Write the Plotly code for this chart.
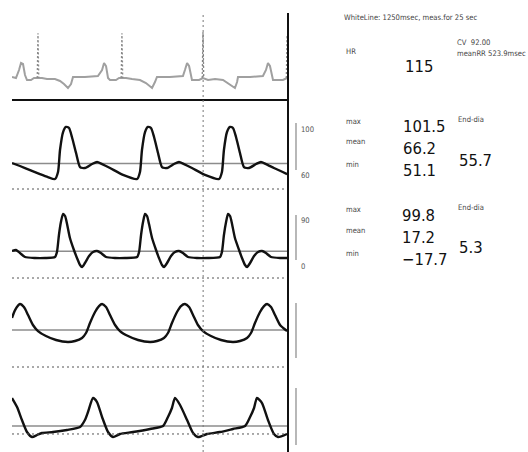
import plotly.graph_objects as go

# ---------------- data (time in ms) ----------------
# ECG (mV)
t_ecg = [0, 26, 46, 59, 72, 85, 98, 124, 144, 170, 196, 229, 281, 314, 340, 366, 386, 399, 477, 562,
         589, 602, 615, 628, 641, 680, 700, 719, 746, 785, 837, 876, 916, 935, 948, 1033, 1118, 1131,
         1145, 1158, 1171, 1177, 1223, 1249, 1282, 1328, 1380, 1419, 1458, 1472, 1478, 1557, 1641,
         1661, 1674, 1687, 1700, 1707, 1772, 1799]
ecg = [0.025, 0.0, 0.2, 0.375, 0.35, 0.075, -0.05, -0.05, 0.0, 0.0, 0.0, -0.025, -0.025, -0.075,
       -0.15, -0.25, -0.15, 0.025, 0.025, 0.05, 0.2, 0.375, 0.3, 0.0, -0.05, -0.05, 0.0, 0.0, 0.0,
       -0.025, -0.05, -0.125, -0.25, -0.1, 0.025, 0.025, 0.05, 0.2, 0.375, 0.3, 0.0, -0.05, -0.05,
       0.0, -0.05, -0.025, -0.05, -0.15, -0.25, -0.1, 0.025, 0.025, 0.05, 0.2, 0.375, 0.3, 0.0,
       -0.05, -0.05, 0.0]
r_times = [170, 719, 1249, 1799]
r_amp = [1.12, 1.12, 1.15, 1.07]

# Arterial pressure (mmHg)
t_ap = [0, 52, 118, 183, 235,
        281, 301, 314, 334, 353, 373, 392, 419, 445, 477, 523, 556, 589, 641, 726,
        818, 837, 850, 870, 889, 909, 929, 955, 981, 1014, 1059, 1092, 1125, 1177, 1262,
        1354, 1373, 1386, 1406, 1426, 1445, 1465, 1491, 1517, 1550, 1596, 1628, 1661, 1713, 1799]
ap = [66.6, 63.7, 59.8, 55.9, 53.0,
      51.1, 57.9, 79.2, 96.6, 101.5, 100.5, 91.8, 76.3, 62.7, 61.8, 65.6, 67.6, 65.6, 61.8, 55.0,
      51.1, 57.9, 79.2, 96.6, 101.5, 100.5, 91.8, 76.3, 62.7, 61.8, 65.6, 67.6, 65.6, 61.8, 55.0,
      51.1, 57.9, 79.2, 96.6, 101.5, 100.5, 91.8, 76.3, 62.7, 61.8, 65.6, 67.6, 65.6, 61.8, 55.9]
ap_mean = 66.2

# Ventricular pressure (mmHg)
t_lv = [0, 26, 52, 85, 150, 216,
        281, 294, 307, 320, 334, 347, 360, 379, 405, 425, 445, 458, 477, 504, 530, 556, 582, 615, 674, 739,
        818, 831, 844, 857, 870, 883, 896, 916, 942, 961, 981, 994, 1014, 1040, 1066, 1092, 1118, 1151, 1210, 1275,
        1360, 1373, 1386, 1400, 1413, 1426, 1439, 1458, 1485, 1504, 1524, 1537, 1557, 1583, 1609, 1635, 1661, 1694, 1753, 1799]
lv = [17.8, 20.0, 13.3, 4.5, 2.3, 2.3,
      4.5, 15.6, 53.3, 82.1, 99.8, 95.4, 77.6, 46.6, 20.0, 2.3, -13.3, -17.7, -8.8, 6.7, 15.6, 17.8, 13.3, 4.5, 2.3, 2.3,
      4.5, 15.6, 53.3, 82.1, 99.8, 95.4, 77.6, 46.6, 20.0, 2.3, -13.3, -17.7, -8.8, 6.7, 15.6, 17.8, 13.3, 4.5, 2.3, 2.3,
      4.5, 15.6, 53.3, 82.1, 99.8, 95.4, 77.6, 46.6, 20.0, 2.3, -13.3, -17.7, -8.8, 6.7, 15.6, 17.8, 13.3, 4.5, 2.3, 2.3]
lv_mean = 17.2

# Channel 4 (arbitrary units)
t_c4 = [0, 20, 52, 78, 105, 137, 170, 222, 288, 366, 412, 458, 484, 510, 543, 569,
        589, 615, 641, 674, 706, 759, 824, 903, 948, 994, 1020, 1046, 1079, 1105,
        1131, 1158, 1184, 1216, 1249, 1301, 1367, 1445, 1491, 1537, 1563, 1589, 1622, 1648,
        1668, 1694, 1720, 1753, 1799]
c4 = [55.1, 64.0, 70.8, 67.4, 58.4, 47.2, 40.4, 34.8, 30.3, 28.1, 29.2, 32.6, 38.2, 49.4, 61.8, 68.5,
      70.8, 67.4, 58.4, 47.2, 40.4, 34.8, 30.3, 28.1, 29.2, 32.6, 38.2, 49.4, 61.8, 68.5,
      70.8, 67.4, 58.4, 47.2, 40.4, 34.8, 30.3, 28.1, 29.2, 32.6, 38.2, 49.4, 61.8, 68.5,
      70.8, 67.4, 58.4, 47.2, 40.4]
c4_ref = 41.6

# Channel 5 (arbitrary units)
t_c5 = [0, 33, 65, 98, 131, 164, 196, 268, 360, 445, 477, 497,
        530, 556, 589, 628, 661, 706, 791, 903, 988, 1020, 1046,
        1066, 1099, 1145, 1184, 1216, 1275, 1360, 1445, 1524, 1557, 1583,
        1602, 1635, 1674, 1713, 1740, 1799]
c5 = [63.5, 52.9, 37.6, 23.5, 17.6, 20.0, 22.4, 23.5, 25.9, 29.4, 37.6, 47.1,
      63.5, 58.8, 41.2, 23.5, 17.6, 21.2, 23.5, 27.1, 30.6, 41.2, 51.8,
      63.5, 55.3, 37.6, 22.4, 17.6, 21.2, 23.5, 27.1, 30.6, 41.2, 51.8,
      63.5, 57.6, 37.6, 21.2, 17.6, 21.2]
c5_ref = 30.6
c5_dot = 21.2

white_line_ms = 1250

# text
header = "WhiteLine: 1250msec, meas.for 25 sec"
hr_value = "115"
cv_text = "CV  92.00"
rr_text = "meanRR 523.9msec"
ap_stats = ["101.5", "66.2", "51.1"]
ap_enddia = "55.7"
lv_stats = ["99.8", "17.2", "\u221217.7"]
lv_enddia = "5.3"
stat_names = ["max", "mean", "min"]

# ---------------- figure ----------------
W, H = 528, 452
def px(y):
    return 1 - y / H

fig = go.Figure()
wave = dict(color="#111111", width=2.4, shape="spline", smoothing=0.6)

fig.add_trace(go.Scatter(x=t_ecg, y=ecg, mode="lines", yaxis="y",
                         line=dict(color="#a0a0a0", width=2)))
rx, ry = [], []
for t, a in zip(r_times, r_amp):
    rx += [t - 5, t, t + 5, None]
    ry += [0, a, 0, None]
fig.add_trace(go.Scatter(x=rx, y=ry, mode="lines", yaxis="y",
                         line=dict(color="#8a8a8a", width=1.3, dash="2px,2px")))
fig.add_trace(go.Scatter(x=t_ap, y=ap, mode="lines", yaxis="y2", line=wave))
fig.add_trace(go.Scatter(x=t_lv, y=lv, mode="lines", yaxis="y3", line=wave))
fig.add_trace(go.Scatter(x=t_c4, y=c4, mode="lines", yaxis="y4", line=wave))
fig.add_trace(go.Scatter(x=t_c5, y=c5, mode="lines", yaxis="y5", line=wave))

hidden = dict(visible=False, showgrid=False, zeroline=False, fixedrange=True)
fig.update_layout(
    width=W, height=H, margin=dict(l=0, r=0, t=0, b=0),
    paper_bgcolor="white", plot_bgcolor="white", showlegend=False,
    xaxis=dict(domain=[12 / W, 288 / W], range=[0, 1805], **hidden),
    yaxis=dict(domain=[px(100), px(13)], range=[-0.55, 1.625], anchor="x", **hidden),
    yaxis2=dict(domain=[px(189), px(100)], range=[41.41, 127.65], anchor="x", **hidden),
    yaxis3=dict(domain=[px(278), px(189)], range=[-42.09, 155.25], anchor="x", **hidden),
    yaxis4=dict(domain=[px(367), px(278)], range=[0, 100], anchor="x", **hidden),
    yaxis5=dict(domain=[0, px(367)], range=[0, 100], anchor="x", **hidden),
)

shapes = []
grey = "#8c8c8c"
dotc = "#555555"
for yr, v in [("y2", ap_mean), ("y3", lv_mean), ("y4", c4_ref), ("y5", c5_ref)]:
    shapes.append(dict(type="line", xref="x domain", x0=0, x1=1, yref=yr, y0=v, y1=v,
                       line=dict(color=grey, width=1.5), layer="below"))
for yr in ["y2 domain", "y3 domain", "y4 domain"]:
    shapes.append(dict(type="line", xref="x domain", x0=0, x1=1, yref=yr, y0=0, y1=0,
                       line=dict(color=dotc, width=1, dash="2px,3px")))
shapes.append(dict(type="line", xref="x domain", x0=0, x1=1, yref="y5", y0=c5_dot, y1=c5_dot,
                   line=dict(color=dotc, width=1, dash="2px,3px")))
shapes.append(dict(type="line", xref="x domain", x0=0, x1=1, yref="y2 domain", y0=1, y1=1,
                   line=dict(color="#111111", width=2.2)))
shapes.append(dict(type="line", xref="x domain", x0=1, x1=1, yref="paper", y0=0, y1=px(13),
                   line=dict(color="#111111", width=2)))
shapes.append(dict(type="line", xref="x", x0=white_line_ms, x1=white_line_ms, yref="paper",
                   y0=0, y1=px(13), line=dict(color="#777777", width=1, dash="2px,3px")))
bx = 296 / W
for yr, a, b in [("y2", 59.8, 105.4), ("y3", -2.2, 97.6), ("y4", 10.1, 71.9), ("y5", 8.2, 75.3)]:
    shapes.append(dict(type="line", xref="paper", x0=bx, x1=bx, yref=yr, y0=a, y1=b,
                       line=dict(color="#888888", width=1.2)))
fig.update_layout(shapes=shapes)

ann = []
FN = "DejaVu Sans Condensed, Liberation Sans Narrow, sans-serif"
def txt(text, x, y, size, color="#444444", xanchor="left"):
    ann.append(dict(text=text, x=x / W, y=px(y), xref="paper", yref="paper",
                    showarrow=False, xanchor=xanchor, yanchor="middle",
                    font=dict(family=FN, size=size, color=color)))

SMALL = 7.6
BIG = 16.5
txt("100", 299, 129, SMALL, "#555555")
txt("60", 299, 176, SMALL, "#555555")
txt("90", 299, 220, SMALL, "#555555")
txt("0", 299, 266, SMALL, "#555555")

txt(header, 342, 17, SMALL)
txt("HR", 344, 52, SMALL)
txt(hr_value, 403, 66, BIG, "#111111")
txt(cv_text, 455, 43, SMALL)
txt(rr_text, 455, 54, SMALL)

for name, val, yl, yv in zip(stat_names, ap_stats, [121, 142, 164], [126, 148, 170]):
    txt(name, 344, yl, SMALL)
    txt(val, 401, yv, BIG, "#111111")
txt("End-dia", 456, 119, SMALL)
txt(ap_enddia, 457, 160, BIG, "#111111")

for name, val, yl, yv in zip(stat_names, lv_stats, [209, 231, 253], [215, 237, 259]):
    txt(name, 344, yl, SMALL)
    txt(val, 400, yv, BIG, "#111111")
txt("End-dia", 456, 207, SMALL)
txt(lv_enddia, 457, 247, BIG, "#111111")

fig.update_layout(annotations=ann)
fig.write_html("out.html", config={"displayModeBar": False, "staticPlot": True},
               post_script="document.body.style.margin='0';")
